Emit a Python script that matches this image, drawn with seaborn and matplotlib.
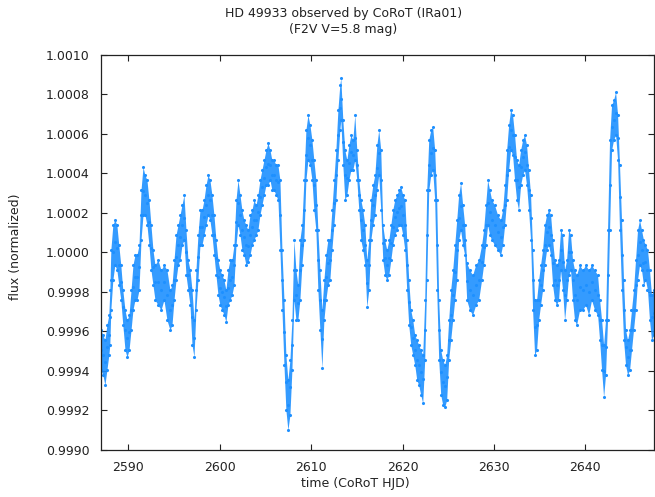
import matplotlib
matplotlib.use("Agg")
import matplotlib.pyplot as plt
import seaborn as sns
import numpy as np
import pandas as pd

sns.set_style("white")
plt.rcParams["font.family"] = ["DejaVu Sans"]

BLUE = "#1E90FF"

# time (CoRoT HJD) of each read-off column of the light curve
time = [
    2587.00, 2587.22, 2587.44, 2587.66, 2587.87, 2587.98, 2588.09, 2588.31, 2588.53, 2588.75,
    2588.96, 2589.18, 2589.40, 2589.64, 2589.86, 2590.08, 2590.30, 2590.51, 2590.73, 2590.95,
    2591.17, 2591.39, 2591.61, 2591.82, 2592.04, 2592.26, 2592.48, 2592.70, 2592.92, 2593.25,
    2593.58, 2593.90, 2594.23, 2594.56, 2594.78, 2595.00, 2595.22, 2595.44, 2595.66, 2595.87,
    2596.09, 2596.31, 2596.53, 2596.75, 2596.97, 2597.19, 2597.40, 2597.62, 2597.84, 2598.06,
    2598.28, 2598.50, 2598.72, 2598.93, 2599.15, 2599.37, 2599.59, 2599.81, 2600.03, 2600.25,
    2600.47, 2600.68, 2600.90, 2601.12, 2601.34, 2601.56, 2601.78, 2602.00, 2602.22, 2602.43,
    2602.65, 2602.87, 2603.09, 2603.31, 2603.53, 2603.75, 2603.97, 2604.18, 2604.40, 2604.62,
    2604.84, 2605.06, 2605.28, 2605.50, 2605.71, 2605.93, 2606.15, 2606.37, 2606.59, 2606.81,
    2607.03, 2607.24, 2607.46, 2607.68, 2607.90, 2608.12, 2608.34, 2608.55, 2608.77, 2608.99,
    2609.21, 2609.43, 2609.65, 2609.87, 2610.09, 2610.30, 2610.52, 2610.74, 2610.96, 2611.18,
    2611.40, 2611.61, 2611.83, 2612.05, 2612.27, 2612.49, 2612.71, 2612.93, 2613.14, 2613.25,
    2613.47, 2613.69, 2613.91, 2614.13, 2614.35, 2614.56, 2614.78, 2615.00, 2615.22, 2615.44,
    2615.66, 2615.88, 2616.09, 2616.31, 2616.53, 2616.75, 2616.97, 2617.19, 2617.40, 2617.62,
    2617.84, 2618.06, 2618.28, 2618.50, 2618.72, 2618.93, 2619.15, 2619.37, 2619.59, 2619.81,
    2620.03, 2620.25, 2620.46, 2620.68, 2620.90, 2621.12, 2621.34, 2621.56, 2621.77, 2621.99,
    2622.21, 2622.43, 2622.65, 2622.87, 2623.09, 2623.30, 2623.52, 2623.74, 2623.96, 2624.18,
    2624.40, 2624.62, 2624.83, 2625.05, 2625.27, 2625.49, 2625.71, 2625.93, 2626.14, 2626.36,
    2626.58, 2626.80, 2627.02, 2627.34, 2627.67, 2628.00, 2628.33, 2628.65, 2628.87, 2629.09,
    2629.31, 2629.53, 2629.75, 2630.07, 2630.40, 2630.73, 2630.95, 2631.17, 2631.39, 2631.61,
    2631.82, 2632.04, 2632.26, 2632.48, 2632.70, 2632.92, 2633.14, 2633.35, 2633.57, 2633.79,
    2634.01, 2634.23, 2634.45, 2634.67, 2634.89, 2635.10, 2635.32, 2635.54, 2635.76, 2635.98,
    2636.20, 2636.42, 2636.63, 2636.85, 2637.07, 2637.29, 2637.51, 2637.73, 2637.95, 2638.17,
    2638.38, 2638.60, 2638.82, 2639.04, 2639.37, 2639.70, 2640.03, 2640.36, 2640.68, 2641.01,
    2641.34, 2641.56, 2641.78, 2642.00, 2642.21, 2642.43, 2642.65, 2642.87, 2643.09, 2643.31,
    2643.53, 2643.74, 2643.96, 2644.18, 2644.40, 2644.62, 2644.84, 2645.05, 2645.27, 2645.49,
    2645.71, 2645.93, 2646.15, 2646.36, 2646.58, 2646.80, 2647.02, 2647.24, 2647.46,
]

# lower edge of the scatter band, ppm relative to 1
flux_lo_ppm = [
    -595, -620, -671, -595, -519, -468, -291, -139, -63, -89,
    -165, -240, -367, -494, -529, -494, -392, -291, -240, -240,
    -190, 63, 190, 190, 139, 38, -89, -165, -240, -266,
    -291, -240, -342, -392, -367, -240, -139, -63, -38, 38,
    63, -114, -190, -266, -468, -529, -291, -139, 38, 38,
    89, 139, 190, 165, 89, -13, -114, -215, -266, -291,
    -316, -352, -266, -240, -215, -165, 38, 139, 89, 13,
    -13, -63, -48, -13, 38, 63, 89, 114, 190, 240,
    291, 342, 342, 367, 316, 316, 291, 266, 13, -291,
    -570, -797, -899, -823, -595, -240, -342, -342, -240, -63,
    63, 367, 468, 443, 367, 215, 114, -190, -392, -585,
    -342, -240, -165, -139, 13, 139, 266, 468, 620, 671,
    443, 266, 291, 367, 418, 418, 468, 367, 215, 63,
    13, -63, -276, -190, 63, 139, 190, 316, 392, 215,
    -38, -114, -139, -114, -38, 38, 89, 114, 139, 139,
    89, 13, -190, -367, -468, -519, -570, -646, -671, -721,
    -762, -544, -139, 316, 392, 418, 266, -190, -544, -721,
    -772, -782, -747, -544, -443, -342, -240, -139, 63, 114,
    38, -13, -240, -291, -316, -266, -240, -139, -63, 38,
    139, 89, 63, 38, 13, -13, 38, 139, 266, 418,
    519, 494, 367, 266, 215, 342, 392, 418, 342, 215,
    63, -291, -519, -494, -342, -266, -190, -63, 13, 38,
    -13, -165, -240, -266, -240, -89, -190, -342, -240, -114,
    -89, -240, -342, -367, -291, -291, -266, -316, -240, -291,
    -316, -443, -595, -732, -620, -342, 114, 519, 570, 595,
    468, 114, -190, -443, -570, -620, -595, -494, -392, -291,
    -139, -63, -89, -165, -139, -190, -342, -443, -418,
]

# upper edge of the scatter band, ppm relative to 1
flux_hi_ppm = [
    -392, -418, -443, -367, -316, -190, 13, 139, 165, 139,
    38, -63, -190, -291, -342, -316, -190, -63, -13, -13,
    38, 316, 433, 392, 367, 266, 139, 13, -63, -38,
    -89, -63, -89, -190, -165, -38, 89, 139, 190, 240,
    291, 114, -38, -89, -190, -342, -89, 89, 215, 215,
    266, 342, 392, 367, 291, 190, 63, -38, -89, -114,
    -139, -190, -89, -38, -38, 38, 266, 367, 291, 215,
    165, 139, 114, 190, 215, 266, 240, 291, 367, 418,
    468, 519, 554, 519, 468, 468, 443, 443, 367, 13,
    -240, -519, -646, -544, -342, 63, -89, -165, 63, 139,
    367, 620, 696, 646, 570, 468, 367, 114, -89, -291,
    -139, -13, 63, 63, 215, 367, 519, 721, 848, 883,
    671, 519, 468, 544, 595, 570, 696, 519, 367, 266,
    215, 139, -38, 63, 266, 342, 392, 544, 620, 519,
    139, 63, 13, 63, 139, 215, 266, 291, 316, 332,
    291, 266, 63, -139, -291, -342, -418, -443, -468, -494,
    -519, -240, 316, 570, 620, 635, 519, 266, -240, -494,
    -544, -570, -519, -342, -190, -89, 38, 165, 291, 352,
    240, 139, -53, -89, -114, -63, -38, 38, 114, 240,
    367, 316, 266, 240, 190, 165, 215, 342, 519, 646,
    721, 696, 595, 468, 443, 519, 570, 595, 544, 418,
    291, 13, -240, -240, -139, -63, 13, 139, 190, 215,
    190, 63, -38, -63, -38, 114, 89, -89, -38, 114,
    89, -38, -89, -114, -63, -89, -63, -89, -63, -89,
    -114, -240, -342, -468, -342, 114, 570, 747, 772, 813,
    696, 443, 165, -139, -392, -443, -392, -291, -190, -38,
    114, 165, 114, 63, 38, 13, -89, -215, -190,
]

df = pd.DataFrame({
    "time": time,
    "lo": 1 + np.array(flux_lo_ppm) * 1e-6,
    "hi": 1 + np.array(flux_hi_ppm) * 1e-6,
})
df["mid"] = (df["lo"] + df["hi"]) / 2

fig = plt.figure(figsize=(6.55, 4.97), dpi=100)
ax = fig.add_axes([0.154, 0.0946, 0.845, 0.7948])

# dense photometry drawn as the band between the read-off edges
ax.fill_between(df["time"], df["lo"], df["hi"], color=BLUE, linewidth=0,
                alpha=0.9)
for col in ["lo", "hi", "mid"]:
    sns.scatterplot(data=df, x="time", y=col, ax=ax, color=BLUE, s=5,
                    linewidth=0, legend=False)

ax.set_xlim(2587.0, 2647.55)
ax.set_ylim(0.9990, 1.0010)
ax.set_xticks([2590, 2600, 2610, 2620, 2630, 2640])
ax.set_yticks(np.round(np.arange(0.9990, 1.00101, 0.0002), 4))
ax.set_yticklabels([f"{v:.4f}" for v in np.arange(0.9990, 1.00101, 0.0002)])
ax.tick_params(direction="in", length=4, width=0.8, color="#222222",
               labelsize=9, labelcolor="#222222", pad=8,
               top=True, right=True, bottom=True, left=True)
for side in ["left", "right", "bottom", "top"]:
    ax.spines[side].set_color("#222222")
    ax.spines[side].set_linewidth(0.9)
ax.set_xlabel("")
ax.set_ylabel("")

fig.text(0.524, 0.985, "HD 49933 observed by CoRoT (IRa01)\n(F2V V=5.8 mag)",
         ha="center", va="top", fontsize=9, color="#222222", linespacing=1.25)
fig.text(0.543, 0.028, "time (CoRoT HJD)", ha="center", va="center",
         fontsize=9, color="#222222")
fig.text(0.024, 0.503, "flux (normalized)", ha="center", va="center",
         rotation=90, fontsize=9, color="#222222")

fig.savefig("out.png", dpi=100, facecolor="white")
